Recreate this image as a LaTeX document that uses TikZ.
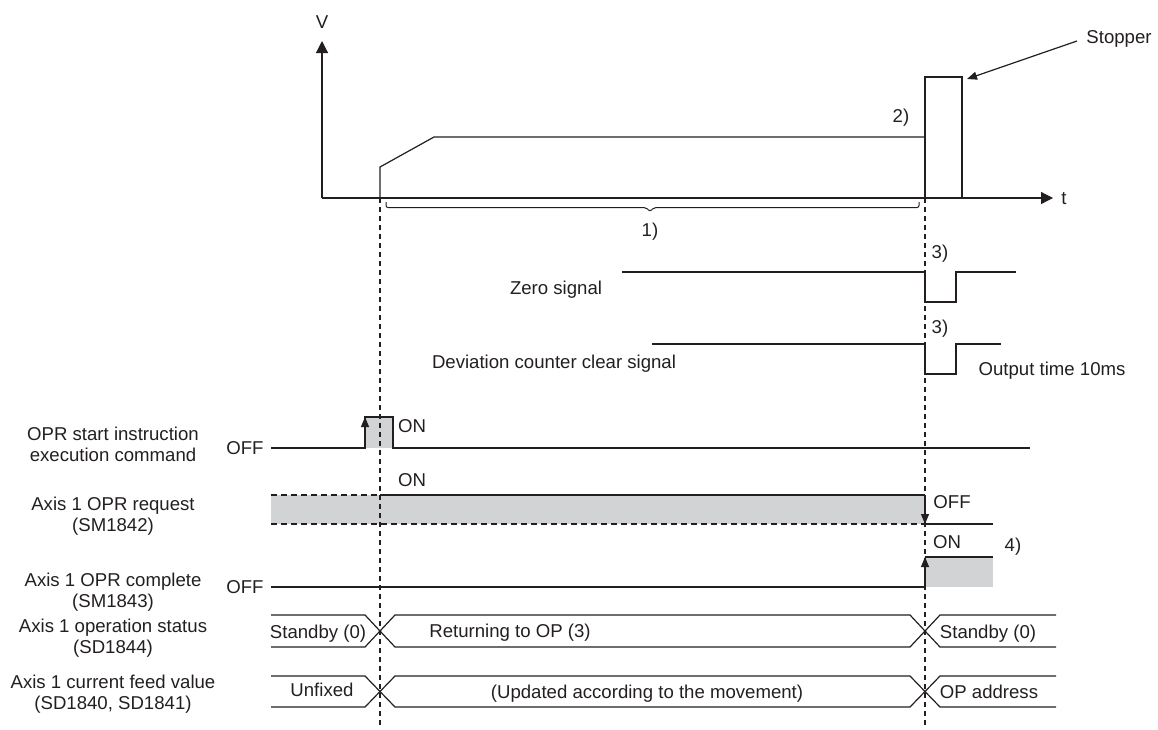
\documentclass[tikz,border=0pt]{standalone}
\usepackage{fontspec}
\setmainfont{Liberation Sans}
\usetikzlibrary{arrows.meta}
\definecolor{fillgray}{RGB}{209,211,212}
\definecolor{ink}{RGB}{35,31,32}
\begin{document}
\begin{tikzpicture}[x=1pt,y=-1pt,
  lab/.style={font=\fontsize{18.6}{21}\selectfont, inner sep=0pt, text height=13.3pt, text depth=0pt, text=ink},
  wave/.style={line width=1.2pt, draw=ink},
  thin/.style={line width=1pt, draw=ink},
  vline/.style={line width=1.1pt, draw=ink, dash pattern=on 5pt off 4pt},
  bandline/.style={line width=1.1pt, draw=ink, dash pattern=on 6pt off 4pt},
  tip/.style={-{Triangle[length=10pt,width=8pt]}},
  bigtip/.style={-{Triangle[length=12pt,width=12pt]}},
  ]
\useasboundingbox (0,0) rectangle (1158,729);

% ---------- fills ----------
\fill[fillgray] (365,417) rectangle (393,448);
\fill[fillgray] (271,495) rectangle (925,524);
\fill[fillgray] (925,557) rectangle (993,587);

% ---------- velocity graph ----------
\coordinate (origin) at (322,198);
\coordinate (vtop) at (322,41);
\coordinate (ttip) at (1053,198);
\draw[wave,bigtip] (origin) -- (vtop);
\draw[wave,bigtip] (origin) -- (ttip);
\draw[wave] (380,198) -- (380,167) -- (434,137) -- (925,137);
\draw[wave] (925,198) rectangle (962,77);
\draw[thin,rounded corners=2pt] (386,202) -- (386,207.5) -- (646,207.5) -- (650,211.5) -- (654,207.5) -- (919,207.5) -- (919,202);

\node[lab] (vlab) at (322,22) {V};
\node[lab] (tlab) at (1064,198) {t};
\node[lab] (one) at (650,230) {1)};
\node[lab] (two) at (901,116) {2)};
\node[lab] (stopper) at (1119,37) {Stopper};
\coordinate (sa) at (1077,41);
\coordinate (stip) at (967,79);
\draw[wave,tip] (sa) -- (stip);

% ---------- zero signal ----------
\draw[wave] (622,272) -- (925,272) -- (925,302) -- (956,302) -- (956,272) -- (1016,272);
\node[lab] (zero) at (556,288) {Zero signal};
\node[lab] (three1) at (940,252) {3)};

% ---------- deviation counter clear ----------
\draw[wave] (652,344) -- (925,344) -- (925,374) -- (956,374) -- (956,344) -- (1001,344);
\node[lab] (dev) at (554,362) {Deviation counter clear signal};
\node[lab] (three2) at (940,327) {3)};
\node[lab] (outt) at (1052,369) {Output time 10ms};

% ---------- OPR start ----------
\draw[wave] (271,448) -- (365,448) -- (365,417) -- (393,417) -- (393,448) -- (1030,448);
\draw[wave,tip] (365,440) -- (365,417);
\node[lab] (l1a) at (113,434) {OPR start instruction};
\node[lab] (l1b) at (113,455) {execution command};
\node[lab] (off1) at (245,448) {OFF};
\node[lab] (on1) at (412,426) {ON};

% ---------- OPR request ----------
\draw[bandline] (271,495) -- (380,495);
\draw[wave] (380,495) -- (925,495);
\draw[bandline] (271,524) -- (925,524);
\draw[wave] (925,524) -- (993,524);
\draw[wave,tip] (925,495) -- (925,524);
\node[lab] (l2a) at (113,504) {Axis 1 OPR request};
\node[lab] (l2b) at (113,525) {(SM1842)};
\node[lab] (on2) at (412,480) {ON};
\node[lab] (off2) at (952,502) {OFF};

% ---------- OPR complete ----------
\draw[wave] (271,587) -- (925,587);
\draw[wave] (925,557) -- (993,557);
\draw[wave,tip] (925,587) -- (925,557);
\node[lab] (l3a) at (113,580) {Axis 1 OPR complete};
\node[lab] (l3b) at (113,601) {(SM1843)};
\node[lab] (off3) at (245,587) {OFF};
\node[lab] (on3) at (947,542) {ON};
\node[lab] (four) at (1013,545) {4)};

% ---------- operation status ----------
\draw[wave] (271,615) -- (365,615) -- (395,647) -- (910,647) -- (940,615) -- (1056,615);
\draw[wave] (271,647) -- (365,647) -- (395,615) -- (910,615) -- (940,647) -- (1056,647);
\node[lab] (l4a) at (113,626) {Axis 1 operation status};
\node[lab] (l4b) at (113,647) {(SD1844)};
\node[lab] (st1) at (318,632) {Standby (0)};
\node[lab] (ret) at (510,631) {Returning to OP (3)};
\node[lab] (st2) at (988,632) {Standby (0)};

% ---------- current feed value ----------
\draw[wave] (271,676) -- (365,676) -- (395,707) -- (910,707) -- (940,676) -- (1056,676);
\draw[wave] (271,707) -- (365,707) -- (395,676) -- (910,676) -- (940,707) -- (1056,707);
\node[lab] (l5a) at (113,682) {Axis 1 current feed value};
\node[lab] (l5b) at (113,703) {(SD1840, SD1841)};
\node[lab] (unf) at (322,690) {Unfixed};
\node[lab] (upd) at (647,692) {(Updated according to the movement)};
\node[lab] (opa) at (989,692) {OP address};

% ---------- dashed timing lines ----------
\coordinate (d1t) at (380,198);
\coordinate (d1b) at (380,727);
\coordinate (d2t) at (925,198);
\coordinate (d2b) at (925,727);
\draw[vline] (d1t) -- (d1b);
\draw[vline] (d2t) -- (d2b);
\end{tikzpicture}
\end{document}
